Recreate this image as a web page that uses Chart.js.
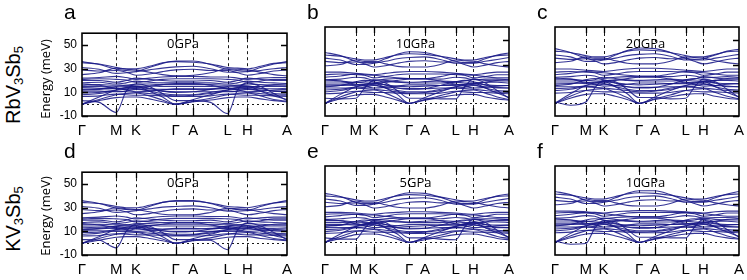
<!DOCTYPE html>
<html>
<head>
<meta charset="utf-8">
<script src="https://cdn.jsdelivr.net/npm/chart.js@4.4.1/dist/chart.umd.min.js"></script>
<style>
  body { margin: 0; background: #fff; }
  #wrap { position: relative; width: 747px; height: 280px; overflow: hidden; font-family: "Liberation Sans", Arial, sans-serif; }
  canvas { position: absolute; }
  .txt { position: absolute; white-space: nowrap; color: #000; }
  .letter { font-size: 21px; line-height: 18px; }
  .press { font-family: "Open Sans", sans-serif; font-size: 13px; transform: translate(-50%, -50%); }
  .ylab { font-family: "Open Sans", sans-serif; font-size: 13px; transform: translate(-50%, -50%) rotate(-90deg); }
  .row { font-size: 20px; transform: translate(-50%, -50%) rotate(-90deg); }
  .row sub { font-size: 65%; vertical-align: -0.2em; }
</style>
</head>
<body>
<div id="wrap"></div>
<script>
// path positions (Γ-M-K-Γ-A-L-H-A) and sampled k points
const symPos = [0, 31.2, 49.2, 85.2, 101.2, 132.4, 150.4, 186.4];
const symLabels = ['Γ', 'M', 'K', 'Γ', 'A', 'L', 'H', 'A'];
const kPos = [0, 15.6, 31.2, 40.2, 49.2, 61.2, 73.2, 85.2, 101.2, 116.8, 132.4, 141.4, 150.4, 162.4, 174.4, 186.4];
const yTicks = [-10, 10, 30, 50];

// RbV3Sb5, 0 GPa
const bandsA = [
  [36, 33.5, 29.5, 28.5, 28, 31, 34.5, 36.5, 36.5, 33.5, 29.5, 28.5, 28, 31, 34, 36],
  [35, 34, 31, 30, 30, 32, 35, 36, 35.5, 34, 31, 30.5, 30, 32, 34.5, 35],
  [31, 29.5, 26, 26.5, 27.5, 29, 30.5, 31.5, 32, 30, 27, 27, 27.5, 28.5, 30, 31],
  [29, 28, 28.5, 27, 24.5, 25.5, 27.5, 29, 29.5, 28.5, 28.5, 26.5, 24.5, 26, 28, 29],
  [25, 26.5, 30.5, 29.5, 29, 27, 25, 24, 24.5, 26.5, 30, 29.5, 29, 27, 25, 24],
  [22, 22.5, 23.5, 22.5, 21, 22, 23, 23.5, 23.5, 23, 23, 22, 21, 22, 22.5, 22.5],
  [21, 21.5, 21, 20.5, 18.5, 19.5, 21, 21.5, 21.5, 21.5, 21, 20.5, 18.5, 19.5, 21, 21],
  [20, 20, 18.5, 20, 22, 21, 20, 19.5, 19.5, 20, 18.5, 20, 22, 21, 20, 20],
  [18, 18.5, 17, 18, 19.5, 18.5, 18, 18, 18, 18, 17, 18, 19.5, 18.5, 18, 17.5],
  [17, 16, 13.5, 13, 13.5, 15, 16.5, 17.5, 17.5, 16, 13.5, 13, 13.5, 15, 16.5, 17],
  [16, 16.5, 16, 16, 17, 17, 16.5, 16.5, 16.5, 16.5, 16, 16, 17, 16.5, 16, 16],
  [15, 15, 14.5, 15, 15, 15.5, 15, 15, 15, 15, 14.5, 15, 15, 15, 15, 15],
  [14, 13.5, 13, 14, 14, 13, 12.5, 12.5, 12.5, 13, 13, 14, 14, 13, 13, 13.5],
  [12.5, 13, 15, 16, 15.5, 13.5, 11, 10, 10.5, 12.5, 15, 16, 15.5, 13.5, 11, 11],
  [12, 12.5, 13.5, 12, 10.5, 11, 12, 13, 13, 12.5, 13.5, 12, 10.5, 11, 12, 12.5],
  [11, 11, 10.5, 11, 12.5, 12, 11, 10.5, 10.5, 10.5, 10.5, 11, 12.5, 12, 11, 10.5],
  [9.5, 10, 12, 12.5, 13, 11, 9, 8, 8, 10, 12, 12.5, 13, 11, 9, 8.5],
  [8, 9, 11, 10.5, 10, 9, 8, 7, 7.5, 9, 11, 10.5, 10, 9, 8, 7.5],
  [6.5, 7, 8.5, 8, 7.5, 7.5, 7, 6.5, 6.5, 7, 8.5, 8, 7.5, 7.5, 7, 6.5],
  [0, 6, 12, 14, 15, 11, 6, 0, 4, 8, 12, 14, 15, 11, 7, 4],
  [0, 4, 8, 9, 9.5, 7, 3.5, 0, 2.5, 5, 8, 9, 9.5, 7, 4, 2.5],
  [0, 3, 5.5, 6, 6, 4.5, 2, 0, 2, 3.5, 5.5, 6, 6, 4.5, 3, 2],
  [3, 1.5, -7, 11, 17, 15, 9, 3, 3, 1.5, -8, 12, 18, 15, 9, 3]
];

// RbV3Sb5, 10 GPa
const bandsB = [
  [40, 37.5, 33, 32, 32, 35, 38.5, 40.5, 40, 37, 33, 32, 32, 35, 38, 39.5],
  [38, 37, 35, 34, 34, 36, 38, 39, 38.5, 37, 35, 34, 34, 36, 37.5, 38],
  [35.5, 34, 30.5, 30.5, 31.5, 33, 35, 36, 36.5, 34.5, 31.5, 31.5, 31.5, 33, 34.5, 36],
  [33, 32, 32.5, 31, 28.5, 29.5, 31.5, 33, 33.5, 32.5, 32.5, 30.5, 28.5, 30, 32, 33],
  [29.5, 30.5, 34, 33, 33, 31, 29, 28.5, 28.5, 30.5, 34, 33.5, 33, 31, 29.5, 28.5],
  [24.5, 24.5, 23.5, 23, 22.5, 23.5, 24.5, 25, 25, 24.5, 23.5, 23, 22.5, 23.5, 24.5, 24.5],
  [22.5, 23, 22.5, 22, 20, 21, 22.5, 23, 23, 23, 22.5, 22, 20, 21, 22.5, 22.5],
  [20.5, 21.5, 23, 22.5, 22, 21, 20, 19.5, 19.5, 21, 23, 22.5, 22, 21, 20, 20],
  [18.5, 19, 20.5, 20, 18, 19, 19.5, 19.5, 19.5, 19, 20.5, 20, 18.5, 19, 19, 18.5],
  [18.5, 17.5, 15, 14.5, 15, 16.5, 18, 19, 19, 17.5, 15, 14.5, 15, 16.5, 18, 18.5],
  [17.5, 17.5, 16.5, 17, 18.5, 18, 17, 16.5, 17, 17.5, 17, 17.5, 19, 18, 17.5, 17.5],
  [16, 16, 16.5, 16, 16, 17, 16.5, 16, 16, 16, 16.5, 16, 16, 16.5, 16.5, 16],
  [14.5, 14.5, 14, 15, 15.5, 14.5, 13.5, 13, 13.5, 14, 14, 15, 15.5, 14.5, 14, 14],
  [13, 14, 17, 18, 17, 14.5, 12, 11, 11.5, 14, 17, 18, 17, 14.5, 12, 12],
  [13.5, 14, 15, 13.5, 12, 12.5, 13.5, 14.5, 14.5, 14, 15, 13.5, 12, 12.5, 13.5, 14],
  [12, 12, 12, 12.5, 14, 13, 12, 11.5, 11.5, 12, 12, 12.5, 14, 13, 12.5, 12],
  [10.5, 11, 13, 14, 14.5, 12, 10, 9, 9, 11, 13, 14, 14.5, 12, 10, 9.5],
  [9, 10, 12, 11.5, 11, 10, 9, 8, 8.5, 10, 12, 11.5, 11, 10, 9, 8.5],
  [7.5, 8, 9.5, 9, 8.5, 8.5, 8, 7.5, 7.5, 8, 9.5, 9, 8.5, 8.5, 8, 7.5],
  [0, 7, 13, 15, 16, 12, 7, 0, 4.5, 9, 13, 15, 16, 12, 8, 4.5],
  [0, 5, 9, 10, 10.5, 8, 4, 0, 3, 6, 9, 10, 10.5, 8, 5, 3],
  [0, 3.5, 6.5, 7, 7, 5, 2.5, 0, 2.5, 4.5, 6.5, 7, 7, 5, 3.5, 2.5],
  [4, 3.5, 4, 12, 18, 16, 10, 4, 4, 3.5, 3.5, 13, 19, 16, 10, 4]
];

// RbV3Sb5, 20 GPa
const bandsC = [
  [43, 40, 35.5, 34.5, 34.5, 38, 41.5, 43.5, 43, 40, 35.5, 34.5, 35, 38, 41, 42.5],
  [41, 40, 37.5, 36.5, 36.5, 38.5, 41, 42, 41.5, 40, 37.5, 36.5, 36.5, 38.5, 40.5, 41],
  [38, 36.5, 33, 33, 34, 35.5, 37.5, 38.5, 39, 37, 34, 34, 34, 35.5, 37, 38.5],
  [35.5, 34.5, 35, 33.5, 31, 32, 34, 35.5, 36, 35, 35, 33, 31, 32.5, 34.5, 35.5],
  [32, 33, 36.5, 35.5, 35.5, 33.5, 31.5, 31, 31, 33, 36.5, 36, 35.5, 33.5, 32, 31],
  [27, 27, 26, 25.5, 25, 26, 27, 27.5, 27.5, 27, 26, 25.5, 25, 26, 27, 27],
  [24.5, 25, 24.5, 24, 22, 23, 24.5, 25, 25, 25, 24.5, 24, 22, 23, 24.5, 24.5],
  [22.5, 23.5, 25, 24.5, 24, 23, 22, 21.5, 21.5, 23, 25, 24.5, 24, 23, 22, 22],
  [20.5, 21, 22, 21.5, 19.5, 20.5, 21, 21, 21, 21, 22, 21.5, 20, 20.5, 21, 20.5],
  [20, 19, 16.5, 16, 16.5, 18, 19.5, 20.5, 20.5, 19, 16.5, 16, 16.5, 18, 19.5, 20],
  [19, 19, 18, 18.5, 20.5, 19.5, 18.5, 18, 18.5, 19, 18.5, 19, 21, 20, 19, 19],
  [17.5, 17.5, 18, 17.5, 17.5, 18.5, 18, 17.5, 17.5, 17.5, 18, 17.5, 17.5, 18, 18, 17.5],
  [16, 16, 15.5, 16.5, 17, 16, 15, 14.5, 15, 15.5, 15.5, 16.5, 17, 16, 15.5, 15.5],
  [14, 15, 18.5, 19.5, 18.5, 16, 13, 12, 12.5, 15, 18.5, 19.5, 18.5, 16, 13, 13],
  [15, 15.5, 16.5, 15, 13.5, 14, 15, 16, 16, 15.5, 16.5, 15, 13.5, 14, 15, 15.5],
  [13, 13, 13, 13.5, 15, 14, 13, 12.5, 12.5, 13, 13, 13.5, 15, 14, 13.5, 13],
  [11.5, 12, 14, 15, 15.5, 13, 11, 10, 10, 12, 14, 15, 15.5, 13, 11, 10.5],
  [10, 11, 13, 12.5, 12, 11, 10, 9, 9.5, 11, 13, 12.5, 12, 11, 10, 9.5],
  [8, 8.5, 10, 9.5, 9, 9, 8.5, 8, 8, 8.5, 10, 9.5, 9, 9, 8.5, 8],
  [0, 7.5, 14, 16, 17, 13, 7.5, 0, 5, 10, 14, 16, 17, 13, 8.5, 5],
  [0, 5.5, 10, 11, 11.5, 8.5, 4.5, 0, 3.5, 6.5, 10, 11, 11.5, 8.5, 5.5, 3.5],
  [0, 4, 7, 7.5, 7.5, 5.5, 3, 0, 3, 5, 7, 7.5, 7.5, 5.5, 4, 3],
  [1, -1.5, 1, 12, 18, 17, 11, 4.5, 4.5, 3.5, 4, 13, 19, 17, 11, 4.5]
];

// KV3Sb5, 0 GPa
const bandsD = [
  [36, 33.5, 29.5, 28.5, 28, 31, 34.5, 36, 36, 33.5, 29.5, 28.5, 28, 31, 34, 36],
  [34.5, 33.5, 31, 30, 30, 32, 34.5, 35.5, 35.5, 34, 31, 30.5, 30, 32, 34, 35],
  [31, 29.5, 26, 26.5, 27.5, 29, 30.5, 31, 31.5, 30, 27, 27, 27.5, 28.5, 30, 31],
  [28.5, 27.5, 28, 26.5, 24, 25, 27, 28.5, 29, 28, 28, 26, 24, 25.5, 27.5, 28.5],
  [25, 26.5, 30, 29, 28.5, 26.5, 24.5, 24, 24, 26, 29.5, 29, 28.5, 26.5, 25, 24],
  [21.5, 22, 23, 22, 20.5, 21.5, 22.5, 23, 23, 22.5, 22.5, 21.5, 20.5, 21.5, 22, 22],
  [20.5, 21, 20.5, 20, 18, 19, 20.5, 21, 21, 21, 20.5, 20, 18, 19, 20.5, 20.5],
  [19.5, 19.5, 18, 19.5, 21.5, 20.5, 19.5, 19, 19, 19.5, 18, 19.5, 21.5, 20.5, 19.5, 19.5],
  [17.5, 18, 16.5, 17.5, 19, 18, 17.5, 17.5, 17.5, 17.5, 16.5, 17.5, 19, 18, 17.5, 17],
  [16.5, 15.5, 13, 12.5, 13, 14.5, 16, 17, 17, 15.5, 13, 12.5, 13, 14.5, 16, 16.5],
  [16, 16, 15.5, 15.5, 16.5, 16.5, 16, 16, 16, 16, 15.5, 15.5, 16.5, 16, 15.5, 15.5],
  [14.5, 14.5, 14, 14.5, 14.5, 15, 14.5, 14.5, 14.5, 14.5, 14, 14.5, 14.5, 14.5, 14.5, 14.5],
  [13.5, 13, 12.5, 13.5, 13.5, 12.5, 12, 12, 12, 12.5, 12.5, 13.5, 13.5, 12.5, 12.5, 13],
  [12, 12.5, 14.5, 15.5, 15, 13, 10.5, 9.5, 10, 12, 14.5, 15.5, 15, 13, 10.5, 10.5],
  [11.5, 12, 13, 11.5, 10, 10.5, 11.5, 12.5, 12.5, 12, 13, 11.5, 10, 10.5, 11.5, 12],
  [10.5, 10.5, 10, 10.5, 12, 11.5, 10.5, 10, 10, 10, 10, 10.5, 12, 11.5, 10.5, 10],
  [9, 9.5, 11.5, 12, 12.5, 10.5, 8.5, 7.5, 7.5, 9.5, 11.5, 12, 12.5, 10.5, 8.5, 8],
  [7.5, 8.5, 10.5, 10, 9.5, 8.5, 7.5, 6.5, 7, 8.5, 10.5, 10, 9.5, 8.5, 7.5, 7],
  [6, 6.5, 8, 7.5, 7, 7, 6.5, 6, 6, 6.5, 8, 7.5, 7, 7, 6.5, 6],
  [0, 5.5, 11.5, 13.5, 14.5, 10.5, 5.5, 0, 4, 7.5, 11.5, 13.5, 14.5, 10.5, 6.5, 4],
  [0, 4, 7.5, 8.5, 9, 6.5, 3.5, 0, 2.5, 4.5, 7.5, 8.5, 9, 6.5, 4, 2.5],
  [0, 2.5, 5, 5.5, 5.5, 4, 2, 0, 2, 3, 5, 5.5, 5.5, 4, 3, 2],
  [3, 2.5, -4, 10, 16, 14.5, 9, 3, 3, 2.5, -5.5, 11, 17, 14.5, 9, 3]
];

// KV3Sb5, 5 GPa
const bandsE = [
  [38.5, 36, 31.5, 30.5, 30.5, 33.5, 37, 39, 38.5, 35.5, 31.5, 30.5, 30.5, 33.5, 36.5, 38],
  [36.5, 35.5, 33.5, 32.5, 32.5, 34.5, 36.5, 37.5, 37, 35.5, 33.5, 32.5, 32.5, 34.5, 36, 36.5],
  [34, 32.5, 29, 29, 30, 31.5, 33.5, 34.5, 35, 33, 30, 30, 30, 31.5, 33, 34.5],
  [31.5, 30.5, 31, 29.5, 27, 28, 30, 31.5, 32, 31, 31, 29, 27, 28.5, 30.5, 31.5],
  [28, 29, 32.5, 31.5, 31.5, 29.5, 27.5, 27, 27, 29, 32.5, 32, 31.5, 29.5, 28, 27],
  [23.5, 23.5, 23, 22.5, 22, 23, 23.5, 24, 24, 23.5, 23, 22.5, 22, 23, 23.5, 23.5],
  [22, 22.5, 22, 21.5, 19.5, 20.5, 22, 22.5, 22.5, 22.5, 22, 21.5, 19.5, 20.5, 22, 22],
  [20, 21, 22, 21.5, 21.5, 20.5, 19.5, 19, 19, 20.5, 22, 21.5, 21.5, 20.5, 19.5, 19.5],
  [18, 18.5, 19.5, 19, 17.5, 18.5, 19, 19, 19, 18.5, 19.5, 19, 18, 18.5, 18.5, 18],
  [18, 17, 14.5, 14, 14.5, 16, 17.5, 18.5, 18.5, 17, 14.5, 14, 14.5, 16, 17.5, 18],
  [17, 17, 16, 16.5, 18, 17.5, 16.5, 16, 16.5, 17, 16.5, 17, 18.5, 17.5, 17, 17],
  [15.5, 15.5, 16, 15.5, 15.5, 16.5, 16, 15.5, 15.5, 15.5, 16, 15.5, 15.5, 16, 16, 15.5],
  [14, 14, 13.5, 14.5, 15, 14, 13, 12.5, 13, 13.5, 13.5, 14.5, 15, 14, 13.5, 13.5],
  [12.5, 13.5, 16.5, 17.5, 16.5, 14, 11.5, 10.5, 11, 13.5, 16.5, 17.5, 16.5, 14, 11.5, 11.5],
  [13, 13.5, 14.5, 13, 11.5, 12, 13, 14, 14, 13.5, 14.5, 13, 11.5, 12, 13, 13.5],
  [11.5, 11.5, 11.5, 12, 13.5, 12.5, 11.5, 11, 11, 11.5, 11.5, 12, 13.5, 12.5, 12, 11.5],
  [10, 10.5, 12.5, 13.5, 14, 11.5, 9.5, 8.5, 8.5, 10.5, 12.5, 13.5, 14, 11.5, 9.5, 9],
  [8.5, 9.5, 11.5, 11, 10.5, 9.5, 8.5, 7.5, 8, 9.5, 11.5, 11, 10.5, 9.5, 8.5, 8],
  [7, 7.5, 9, 8.5, 8, 8, 7.5, 7, 7, 7.5, 9, 8.5, 8, 8, 7.5, 7],
  [0, 6.5, 12.5, 14.5, 15.5, 11.5, 6.5, 0, 4, 8.5, 12.5, 14.5, 15.5, 11.5, 7.5, 4],
  [0, 4.5, 8.5, 9.5, 10, 7.5, 4, 0, 3, 5.5, 8.5, 9.5, 10, 7.5, 4.5, 3],
  [0, 3, 6, 6.5, 6.5, 5, 2.5, 0, 2, 4, 6, 6.5, 6.5, 5, 3, 2],
  [3.5, 2.5, 2.5, 11, 17, 15.5, 9.5, 3.5, 3.5, 2.5, 2, 12, 18, 15.5, 9.5, 3.5]
];

// KV3Sb5, 10 GPa
const bandsF = [
  [40, 37.5, 33, 32, 32, 35, 38.5, 40.5, 40.5, 37.5, 33, 32, 32, 35, 38, 40],
  [38, 37, 35, 34, 34, 36, 38, 39, 38.5, 37, 35, 34, 34, 36, 37.5, 38],
  [35.5, 34, 30.5, 30.5, 31.5, 33, 35, 36, 36.5, 34.5, 31.5, 31.5, 31.5, 33, 34.5, 36],
  [33, 32, 32.5, 31, 28.5, 29.5, 31.5, 33, 33.5, 32.5, 32.5, 30.5, 28.5, 30, 32, 33],
  [29.5, 30.5, 34, 33, 33, 31, 29, 28.5, 28.5, 30.5, 34, 33.5, 33, 31, 29.5, 28.5],
  [24.5, 24.5, 24, 23.5, 23, 24, 24.5, 25, 25, 24.5, 24, 23.5, 23, 24, 24.5, 24.5],
  [23, 23.5, 23, 22.5, 20.5, 21.5, 23, 23.5, 23.5, 23.5, 23, 22.5, 20.5, 21.5, 23, 23],
  [21, 22, 23.5, 23, 22.5, 21.5, 20.5, 20, 20, 21.5, 23.5, 23, 22.5, 21.5, 20.5, 20.5],
  [19, 19.5, 21, 20.5, 18.5, 19.5, 20, 20, 20, 19.5, 21, 20.5, 19, 19.5, 19.5, 19],
  [18.5, 17.5, 15, 14.5, 15, 16.5, 18, 19, 19, 17.5, 15, 14.5, 15, 16.5, 18, 18.5],
  [17.5, 17.5, 16.5, 17, 19, 18, 17, 16.5, 17, 17.5, 17, 17.5, 19, 18, 17.5, 17.5],
  [16, 16, 16.5, 16, 16, 17, 16.5, 16, 16, 16, 16.5, 16, 16, 16.5, 16.5, 16],
  [14.5, 14.5, 14, 15, 15.5, 14.5, 13.5, 13, 13.5, 14, 14, 15, 15.5, 14.5, 14, 14],
  [13, 14, 17.5, 18.5, 17.5, 15, 12, 11, 11.5, 14, 17.5, 18.5, 17.5, 15, 12, 12],
  [13.5, 14, 15, 13.5, 12, 12.5, 13.5, 14.5, 14.5, 14, 15, 13.5, 12, 12.5, 13.5, 14],
  [12, 12, 12, 12.5, 14, 13, 12, 11.5, 11.5, 12, 12, 12.5, 14, 13, 12.5, 12],
  [10.5, 11, 13, 14, 14.5, 12, 10, 9, 9, 11, 13, 14, 14.5, 12, 10, 9.5],
  [9, 10, 12, 11.5, 11, 10, 9, 8, 8.5, 10, 12, 11.5, 11, 10, 9, 8.5],
  [7.5, 8, 9.5, 9, 8.5, 8.5, 8, 7.5, 7.5, 8, 9.5, 9, 8.5, 8.5, 8, 7.5],
  [0, 7, 13, 15, 16, 12, 7, 0, 4.5, 9, 13, 15, 16, 12, 8, 4.5],
  [0, 5, 9, 10, 10.5, 8, 4, 0, 3, 6, 9, 10, 10.5, 8, 5, 3],
  [0, 3.5, 6.5, 7, 7, 5, 2.5, 0, 2.5, 4.5, 6.5, 7, 7, 5, 3.5, 2.5],
  [1, -1.5, -1, 11, 17, 16, 10, 4, 4, 3.5, 3.5, 12, 18, 16, 10, 4]
];

const panels = [
  { bands: bandsA, letter: 'a', press: '0GPa',  left: 82,  top: 27,  w: 208, h: 89, showY: true },
  { bands: bandsB, letter: 'b', press: '10GPa', left: 325, top: 27,  w: 187, h: 89, showY: false },
  { bands: bandsC, letter: 'c', press: '20GPa', left: 555, top: 27,  w: 187, h: 89, showY: false },
  { bands: bandsD, letter: 'd', press: '0GPa',  left: 82,  top: 166, w: 208, h: 89, showY: true },
  { bands: bandsE, letter: 'e', press: '5GPa',  left: 325, top: 166, w: 187, h: 89, showY: false },
  { bands: bandsF, letter: 'f', press: '10GPa', left: 555, top: 166, w: 187, h: 89, showY: false }
];

const lineColor = 'rgba(25, 25, 135, 0.88)';
const padL = 30, padR = 8, padT = 6, padB = 26;
const wrap = document.getElementById('wrap');

const px = v => Math.round(v) + 0.5;

const framePlugin = {
  id: 'frame',
  beforeDatasetsDraw(chart) {
    const { ctx, chartArea: a, scales: { x, y } } = chart;
    ctx.save();
    ctx.strokeStyle = '#000';
    ctx.lineWidth = 0.9;
    // dashed lines at the inner symmetry points
    ctx.setLineDash([3, 3]);
    symPos.slice(1, -1).forEach(k => {
      const xp = px(x.getPixelForValue(k));
      ctx.beginPath();
      ctx.moveTo(xp, a.top);
      ctx.lineTo(xp, a.bottom);
      ctx.stroke();
    });
    // zero line
    ctx.setLineDash([2, 3]);
    const y0 = px(y.getPixelForValue(0));
    ctx.beginPath();
    ctx.moveTo(a.left, y0);
    ctx.lineTo(a.right, y0);
    ctx.stroke();
    ctx.restore();
  },
  afterDatasetsDraw(chart) {
    const { ctx, chartArea: a, scales: { x, y } } = chart;
    const showY = chart.options.plugins.frame.showY;
    ctx.save();
    ctx.strokeStyle = '#000';
    ctx.lineWidth = 1.3;
    ctx.beginPath();
    symPos.slice(1, -1).forEach(k => {
      const xp = px(x.getPixelForValue(k));
      ctx.moveTo(xp, a.bottom);
      ctx.lineTo(xp, a.bottom - 8);
      ctx.moveTo(xp, a.top);
      ctx.lineTo(xp, a.top + 6);
    });
    yTicks.forEach(v => {
      const yp = px(y.getPixelForValue(v));
      ctx.moveTo(a.right, yp);
      ctx.lineTo(a.right - 6, yp);
      if (showY) {
        ctx.moveTo(a.left, yp);
        ctx.lineTo(a.left + 6, yp);
      }
    });
    ctx.stroke();
    ctx.lineWidth = 1.6;
    ctx.strokeRect(a.left, a.top, a.right - a.left, a.bottom - a.top);
    ctx.restore();
  }
};

function addText(cls, html, left, top) {
  const d = document.createElement('div');
  d.className = 'txt ' + cls;
  d.innerHTML = html;
  d.style.left = left + 'px';
  d.style.top = top + 'px';
  wrap.appendChild(d);
}

panels.forEach(p => {
  const canvas = document.createElement('canvas');
  const cw = p.w + padL + padR;
  const ch = p.h + padT + padB;
  canvas.width = cw;
  canvas.height = ch;
  canvas.style.width = cw + 'px';
  canvas.style.height = ch + 'px';
  canvas.style.left = (p.left - padL) + 'px';
  canvas.style.top = (p.top - padT) + 'px';
  wrap.appendChild(canvas);

  new Chart(canvas, {
    type: 'line',
    data: {
      datasets: p.bands.map(band => ({
        data: band.map((e, i) => ({ x: kPos[i], y: e })),
        borderColor: lineColor,
        borderWidth: 1.1,
        pointRadius: 0,
        cubicInterpolationMode: 'monotone',
        fill: false
      }))
    },
    options: {
      responsive: false,
      animation: false,
      events: [],
      layout: { padding: { left: 0, right: padR, top: padT, bottom: 0 } },
      plugins: { legend: { display: false }, tooltip: { enabled: false }, frame: { showY: p.showY } },
      scales: {
        x: {
          type: 'linear',
          min: 0,
          max: symPos[symPos.length - 1],
          grid: { display: false, drawTicks: false },
          border: { display: false },
          afterBuildTicks: s => { s.ticks = symPos.map(v => ({ value: v })); },
          afterFit: s => { s.height = padB; },
          ticks: {
            autoSkip: false,
            maxRotation: 0,
            minRotation: 0,
            padding: 6,
            color: '#000',
            font: { family: 'Liberation Sans', size: 15 },
            callback: (v, i) => symLabels[i]
          }
        },
        y: {
          min: -10,
          max: 60,
          grid: { display: false, drawTicks: false },
          border: { display: false },
          afterBuildTicks: s => { s.ticks = yTicks.map(v => ({ value: v })); },
          afterFit: s => { s.width = padL; },
          ticks: {
            display: p.showY,
            padding: 5,
            color: '#000',
            font: { family: 'Liberation Sans', size: 12 },
            callback: v => String(v)
          }
        }
      }
    },
    plugins: [framePlugin]
  });

  addText('letter', p.letter, p.left - 18, p.top - 24);
  addText('press', p.press, p.left + p.w / 2 - 3, p.top + 16);
});

addText('row', 'RbV<sub>3</sub>Sb<sub>5</sub>', 14, 85);
addText('row', 'KV<sub>3</sub>Sb<sub>5</sub>', 14, 219);
addText('ylab', 'Energy (meV)', 45, 79);
addText('ylab', 'Energy (meV)', 45, 216);
</script>
</body>
</html>
